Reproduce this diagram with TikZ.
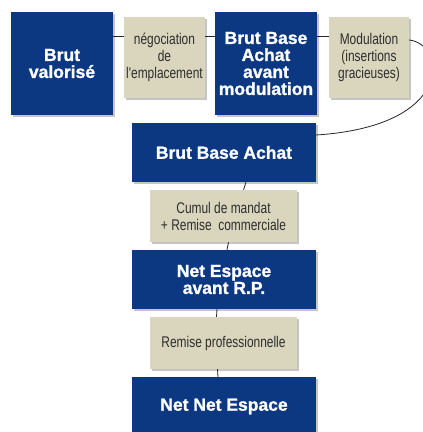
\documentclass[tikz,border=0pt]{standalone}
\usepackage{fontspec}
\setmainfont{Liberation Sans}
\newfontfamily\narrowfont[FakeStretch=0.77]{Liberation Sans}
\newfontfamily\heavyfont[FakeBold=1.2]{Liberation Sans Bold}
\usepackage{tikz}
\usetikzlibrary{shadows}

\definecolor{navy}{RGB}{12,56,130}
\definecolor{sand}{RGB}{218,214,190}
\definecolor{inkgray}{RGB}{45,45,45}

\tikzset{
  blue box/.style={rectangle, fill=navy, text=white, inner sep=0pt, align=center,
    font=\heavyfont\fontsize{17.5}{17}\selectfont,
    drop shadow={opacity=.45, shadow xshift=2pt, shadow yshift=-2pt}},
  sand box/.style={rectangle, fill=sand, text=inkgray, inner sep=0pt, align=center,
    font=\narrowfont\fontsize{15.5}{17}\selectfont,
    drop shadow={opacity=.45, shadow xshift=2pt, shadow yshift=-2pt}},
  link/.style={draw=black!85, line width=.8pt}
}

\begin{document}
\begin{tikzpicture}[x=1pt, y=-1pt]
    \clip (0,0) rectangle (423,432);
    \fill[white] (0,0) rectangle (423,432);
    % top row
    \node(BV) at (62,63.5) [blue box, minimum width=102pt, minimum height=103pt] {Brut\\valoris\'e};
    \node(NEG) at (164.5,57.5) [sand box, minimum width=81pt, minimum height=81pt] {n\'egociation\\de\\l'emplacement};
    \node(BBAM) at (266,63.5) [blue box, minimum width=102pt, minimum height=103pt] {Brut Base\\Achat\\avant\\modulation};
    \node(MOD) at (369,57.5) [sand box, minimum width=80pt, minimum height=81pt] {Modulation\\(insertions\\gracieuses)};
    % column
    \node(BBA) at (224,152.5) [blue box, minimum width=184pt, minimum height=59pt] {Brut Base Achat};
    \node(CUM) at (223.5,216) [sand box, minimum width=147pt, minimum height=52pt] {Cumul de mandat\\+ Remise\ \ commerciale};
    \node(NEA) at (224,279.5) [blue box, minimum width=184pt, minimum height=59pt] {Net Espace\\avant R.P.};
    \node(RP) at (223.5,343) [sand box, minimum width=147pt, minimum height=52pt] {Remise professionnelle};
    \node(NNE) at (224,406.5) [blue box, minimum width=184pt, minimum height=59pt] {Net Net Espace};
    % connectors
    \draw[link] ([yshift=27.5pt]BV.east) -- ([yshift=21.5pt]NEG.west);
    \draw[link] ([yshift=21.5pt]NEG.east) -- ([yshift=27.5pt]BBAM.west);
    \draw[link] ([yshift=27.5pt]BBAM.east) -- ([yshift=21.5pt]MOD.west);
    \draw[link] ([yshift=17.5pt]MOD.east) .. controls (446,44) and (456,126) .. ([yshift=17.5pt]BBA.east);
    \draw[link] ([xshift=22pt]BBA.south) -- ([xshift=20pt]CUM.north);
    \draw[link] ([xshift=5pt]CUM.south) -- ([xshift=3pt]NEA.north);
    \draw[link] ([xshift=-7pt]NEA.south) -- ([xshift=-7pt]RP.north);
    \draw[link] ([xshift=-6pt]RP.south) -- ([xshift=-6pt]NNE.north);
\end{tikzpicture}
\end{document}
